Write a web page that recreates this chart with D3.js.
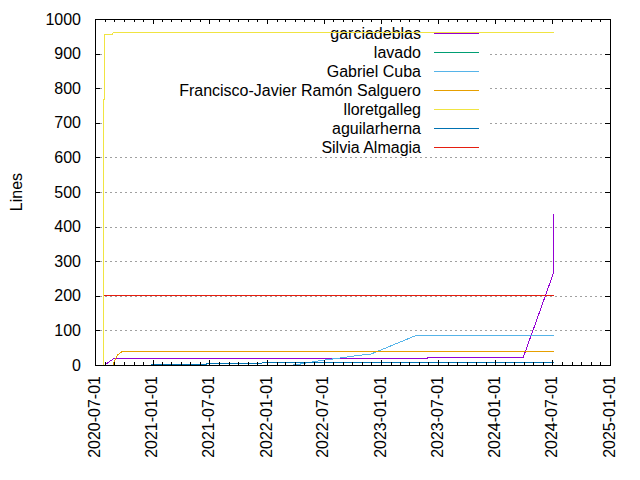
<!DOCTYPE html>
<html><head><meta charset="utf-8">
<script src="https://cdn.jsdelivr.net/npm/d3@7"></script>
<style>
html,body{margin:0;padding:0;background:#fff;}
text{font-family:"Liberation Sans",Arial,sans-serif;fill:#000;}
</style></head>
<body><svg id="c" width="640" height="480"></svg>
<script>
// ---- data ----
const seriesNames = ["garciadeblas","lavado","Gabriel Cuba","Francisco-Javier Ramón Salguero","lloretgalleg","aguilarherna","Silvia Almagia"];
const seriesColors = ["#9400d3","#009e73","#56b4e9","#e69f00","#f0e442","#0072b2","#e51e10"];
const garciadeblas = [["2020-08-01",0],["2020-09-01",20],["2023-05-28",20],["2023-05-29",22],["2024-03-30",22],["2024-07-03",262],["2024-07-04",435]];
const lavado = [["2021-01-01",0],["2024-07-05",0]];
const gabrielCuba = [["2022-03-25",1],["2022-04-20",3],["2022-06-01",10],["2022-06-25",13],["2022-07-20",16],["2022-08-11",19],["2022-09-07",22],["2022-09-28",25],["2022-10-22",28],["2022-11-28",31],["2023-04-19",84],["2023-06-10",84],["2023-06-12",86],["2024-07-05",86]];
const franciscoJavier = [["2020-08-27",0],["2020-09-11",29],["2020-09-27",40],["2024-07-05",40]];
const lloretgalleg = [["2020-07-29",0],["2020-07-30",955],["2020-08-27",955],["2020-08-28",962],["2024-07-05",962]];
const aguilarherna = [["2020-12-27",2],["2021-06-21",2],["2021-06-22",5],["2021-12-16",5],["2021-12-17",8],["2024-07-05",8]];
const silviaAlmagia = [["2020-07-29",200],["2024-07-05",200]];
const seriesData = [garciadeblas,lavado,gabrielCuba,franciscoJavier,lloretgalleg,aguilarherna,silviaAlmagia];
const yTicks = [0,100,200,300,400,500,600,700,800,900,1000];
const xDomain = ["2020-07-01","2025-01-01"];
const yLabel = "Lines";

// ---- layout ----
const L=95, R=610, T=19, B=365;
const parse = d3.utcParse("%Y-%m-%d");
const x = d3.scaleUtc().domain(xDomain.map(parse)).range([L,R]);
const y = d3.scaleLinear().domain([0,1000]).range([B,T]);
const svg = d3.select("#c");
const FS = 16;

// grid
const gy = svg.append("g");
yTicks.filter(v=>v>0&&v<1000).forEach(v=>{
  gy.append("line").attr("x1",L).attr("x2",R).attr("y1",Math.round(y(v))+0.5).attr("y2",Math.round(y(v))+0.5)
    .attr("stroke","#a0a0a0").attr("stroke-width",1).attr("stroke-dasharray","2,3");
});

// key box (opaque)
svg.append("rect").attr("x",104).attr("y",22).attr("width",386).attr("height",130).attr("fill","#fff");
const key = svg.append("g");
seriesNames.forEach((n,i)=>{
  const yy = 33 + i*19;
  key.append("text").attr("x",421).attr("y",yy).attr("dy","0.35em").attr("text-anchor","end")
    .style("font-size",FS+"px").text(n);
  key.append("line").attr("x1",434).attr("x2",479).attr("y1",Math.round(yy)+0.5).attr("y2",Math.round(yy)+0.5)
    .attr("stroke",seriesColors[i]).attr("stroke-width",1);
});

// data lines
const line = d3.line().x(d=>x(parse(d[0]))).y(d=>y(d[1]));
seriesData.forEach((s,i)=>{
  svg.append("path").attr("d",line(s)).attr("fill","none").attr("stroke",seriesColors[i])
    .attr("stroke-width",1).style("shape-rendering","crispEdges");
});

// axes (gnuplot-style frame with inward ticks)
const months = x.ticks(d3.utcMonth.every(1));
const majors = x.ticks(d3.utcMonth.every(6));
const fmt = d3.utcFormat("%Y-%m-%d");
const fr = svg.append("g").attr("stroke","#000").attr("stroke-width",1).style("shape-rendering","crispEdges");
fr.append("rect").attr("x",L+0.5).attr("y",T+0.5).attr("width",R-L).attr("height",B-T).attr("fill","none");
months.forEach(d=>{
  const isMaj = majors.some(m=>+m===+d);
  const len = isMaj?5:3;
  const xx = Math.round(x(d))+0.5;
  fr.append("line").attr("x1",xx).attr("x2",xx).attr("y1",B).attr("y2",B-len);
  fr.append("line").attr("x1",xx).attr("x2",xx).attr("y1",T).attr("y2",T+len);
});
yTicks.forEach(v=>{
  const yy = Math.round(y(v))+0.5;
  fr.append("line").attr("x1",L).attr("x2",L+5).attr("y1",yy).attr("y2",yy);
  fr.append("line").attr("x1",R).attr("x2",R-5).attr("y1",yy).attr("y2",yy);
});
// tick labels
yTicks.forEach(v=>{
  svg.append("text").attr("x",81).attr("y",y(v)).attr("dy","0.35em").attr("text-anchor","end")
    .style("font-size",FS+"px").text(v);
});
majors.forEach(d=>{
  svg.append("text").attr("transform",`translate(${x(d)},376) rotate(-90)`).attr("dy","0.3em")
    .attr("text-anchor","end").style("font-size",FS+"px").text(fmt(d));
});
svg.append("text").attr("transform","translate(16,192) rotate(-90)").attr("dy","0.35em")
  .attr("text-anchor","middle").style("font-size",FS+"px").text(yLabel);
</script></body></html>
